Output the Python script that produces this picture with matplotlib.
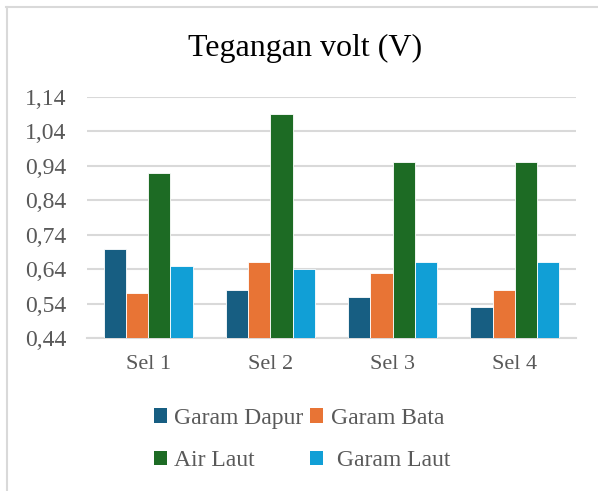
import matplotlib
matplotlib.use("Agg")
import matplotlib.pyplot as plt
from matplotlib.patches import Patch
from matplotlib.lines import Line2D
import numpy as np

categories = ["Sel 1", "Sel 2", "Sel 3", "Sel 4"]
series_names = ["Garam Dapur", "Garam Bata", "Air Laut", " Garam Laut"]
garam_dapur = [0.70, 0.58, 0.56, 0.53]
garam_bata = [0.57, 0.66, 0.63, 0.58]
air_laut = [0.92, 1.09, 0.95, 0.95]
garam_laut = [0.65, 0.64, 0.66, 0.66]
yticks = [0.44, 0.54, 0.64, 0.74, 0.84, 0.94, 1.04, 1.14]
colors = ["#175E82", "#E87435", "#1D6B24", "#119FD6"]

plt.rcParams['font.family'] = ['Liberation Serif', 'DejaVu Serif']
text_color = "#595959"

fig = plt.figure(figsize=(5.98, 4.91), dpi=100)
ax = fig.add_axes([87/598, 1-338.3/491, (576-87)/598, (338.3-96.7)/491])

x = np.arange(len(categories))
width = 0.182
data = [garam_dapur, garam_bata, air_laut, garam_laut]
for i, (vals, c) in enumerate(zip(data, colors)):
    offs = (i - 1.5) * width
    ax.bar(x + offs, np.array(vals) - 0.44, width, bottom=0.44, color=c,
           edgecolor="white", linewidth=0.6, zorder=3)

ax.set_ylim(0.44, 1.14)
ax.set_xlim(-0.5, 3.5)
ax.set_yticks(yticks)
ax.set_yticklabels([f"{v:.2f}".replace(".", ",") for v in yticks])
ax.set_xticks(x)
ax.set_xticklabels(categories)
ax.tick_params(length=0, labelsize=16, colors=text_color)
ax.tick_params(axis='y', labelsize=17, pad=15)
ax.tick_params(axis='x', pad=12)
ax.grid(axis='y', color="#D9D9D9", linewidth=1.5, zorder=0)
for s in ["top", "right", "left"]:
    ax.spines[s].set_visible(False)
ax.spines["bottom"].set_color("#D9D9D9")
ax.spines["bottom"].set_linewidth(1.5)

fig.text(305/598, 1-48/491, "Tegangan volt (V)", ha="center", va="center",
         fontsize=23, color="black")

handles = [Patch(facecolor=c, edgecolor="none") for c in colors]
order = [0, 2, 1, 3]  # row-major layout with ncol=2
leg = fig.legend([handles[i] for i in order], [series_names[i] for i in order],
                 ncol=2, loc="center",
                 bbox_to_anchor=(302/598, 1-439.5/491), frameon=False,
                 fontsize=17, handlelength=0.55, handleheight=0.55,
                 handletextpad=0.3, columnspacing=0.3, labelspacing=0.9,
                 labelcolor=text_color)

# outer border (top and left)
fig.add_artist(Line2D([6/598, 1], [1-7/491, 1-7/491], color="#D9D9D9",
                      linewidth=1.5, transform=fig.transFigure))
fig.add_artist(Line2D([6.5/598, 6.5/598], [0, 1-7/491], color="#D9D9D9",
                      linewidth=1.5, transform=fig.transFigure))

fig.savefig("out.png", dpi=100, facecolor="white")
